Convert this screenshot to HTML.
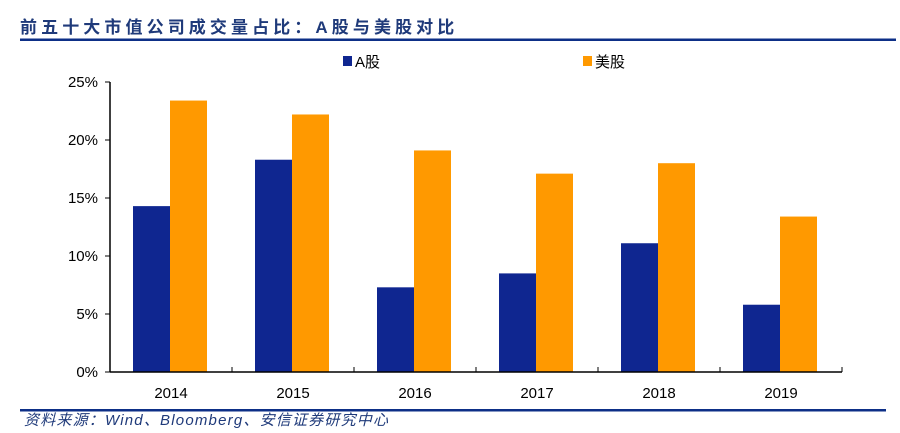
<!DOCTYPE html>
<html><head><meta charset="utf-8"><style>
body{margin:0;background:#fff;width:900px;height:428px;overflow:hidden;font-family:"Liberation Sans","Noto Sans CJK SC",sans-serif}
</style></head><body>
<svg width="900" height="428" xmlns="http://www.w3.org/2000/svg" id="chart">
<text x="20" y="33" font-size="17" font-weight="bold" fill="#1f3a7a" letter-spacing="4.1" font-family="'Liberation Sans','Noto Sans CJK SC',sans-serif">前五十大市值公司成交量占比：A股与美股对比</text>
<rect x="20" y="38.5" width="876" height="2.5" fill="#0d2f87"/>
<rect x="20" y="409" width="866" height="2.5" fill="#0d2f87"/>
<text x="24" y="425" font-size="15" font-style="italic" fill="#1f3a7a" letter-spacing="1.2">资料来源：Wind、Bloomberg、安信证券研究中心</text>
<g id="legend">
<rect x="343" y="56" width="9" height="10" fill="#0f2690"/>
<text x="355" y="67" font-size="15" fill="#000">A股</text>
<rect x="583" y="56" width="9" height="10" fill="#ff9900"/>
<text x="595" y="67" font-size="15" fill="#000">美股</text>
</g>
<g id="plot"></g>
</svg>
<script>
const categories=["2014","2015","2016","2017","2018","2019"];
const seriesA=[14.3,18.3,7.3,8.5,11.1,5.8];
const seriesUS=[23.4,22.2,19.1,17.1,18.0,13.4];
const yTicks=[0,5,10,15,20,25];
const ns="http://www.w3.org/2000/svg";
const g=document.getElementById("plot");
const x0=110,x1=842,y0=372,yTop=82,yMax=25;
const gw=(x1-x0)/categories.length;
const y=v=>y0-(v/yMax)*(y0-yTop);
function mk(t,a){const e=document.createElementNS(ns,t);for(const k in a)e.setAttribute(k,a[k]);g.appendChild(e);return e;}
yTicks.forEach(t=>{
 const l=mk("line",{x1:x0-5,x2:x0,y1:y(t),y2:y(t),stroke:"#000","stroke-width":1});
 
 
 const tx=mk("text",{x:x0-12,y:y(t)+5,"text-anchor":"end","font-size":15});
 tx.textContent=t+"%";
 
 
});
categories.forEach((c,i)=>{
 const cx=x0+gw*(i+0.5);
 const a=mk("rect",{x:cx-38,y:y(seriesA[i]),width:37,height:y0-y(seriesA[i]),fill:"#0f2690"});
 
 
 const u=mk("rect",{x:cx-1,y:y(seriesUS[i]),width:37,height:y0-y(seriesUS[i]),fill:"#ff9900"});
 
 
 const tx=mk("text",{x:cx,y:398,"text-anchor":"middle","font-size":15});
 tx.textContent=c;
 
 
 const tk=mk("line",{x1:x0+gw*(i+1),x2:x0+gw*(i+1),y1:y0,y2:y0-5,stroke:"#000","stroke-width":1});
 
 
});
const ya=mk("line",{x1:x0,x2:x0,y1:yTop,y2:y0,stroke:"#000","stroke-width":1.5});


const xa=mk("line",{x1:x0,x2:x1,y1:y0,y2:y0,stroke:"#000","stroke-width":1.5});


</script>
</body></html>
